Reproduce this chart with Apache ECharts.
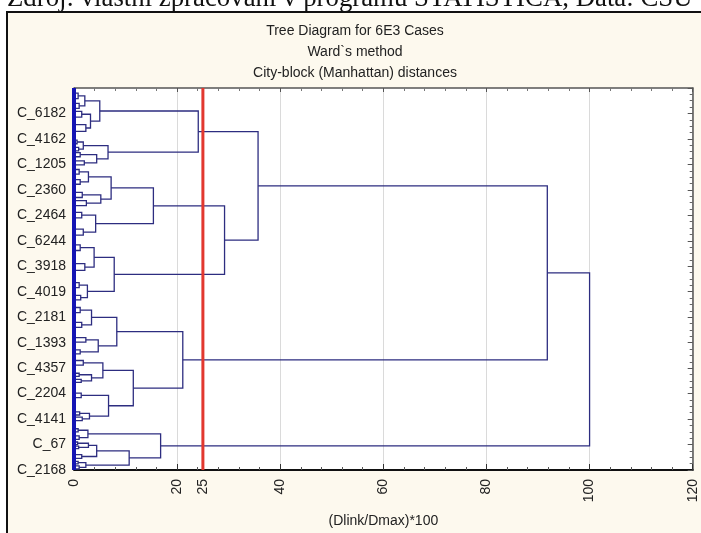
<!DOCTYPE html>
<html><head><meta charset="utf-8">
<script src="https://cdn.jsdelivr.net/npm/echarts@6/dist/echarts.min.js"></script>
<style>html,body{margin:0;padding:0;background:#fff}#c{width:701px;height:533px}</style>
</head><body><div id="c"></div>
<script>
// Case labels shown on the vertical axis, bottom to top (y = 0 .. 14 in label units)
const caseLabels = ['C_2168','C_67','C_4141','C_2204','C_4357','C_1393','C_2181','C_4019','C_3918','C_6244','C_2464','C_2360','C_1205','C_4162','C_6182'];
const xTickValues = [0, 20, 25, 40, 60, 80, 100, 120];
const cutHeight = 25;          // red cut line, (Dlink/Dmax)*100
const leafSpan = [0, 15];      // extent of the dense leaf column (label units)

// Subtrees: [linkHeight, left, right]; a plain number is a leaf at that y position
const clusterA1 = [5.0, [2.1, [0.8, 14.80, 14.58], [1.0, 14.40, 14.20]], [3.2, [1.5, 14.08, 13.86], [2.3, 13.56, 13.30]]];
const clusterA2 = [6.6, [1.8, [0.6, 12.95, 12.81], [0.9, 12.67, 12.53]], [4.4, [1.2, 12.46, 12.30], [2.0, 12.14, 11.98]]];
const clusterB1 = [15.4, [7.2, [2.8, [1.0, 11.80, 11.62], [1.2, 11.40, 11.22]], [5.2, [1.6, 10.90, 10.70], [2.4, 10.58, 10.38]]],
                         [4.2, [1.5, 10.12, 9.90], [1.8, 9.46, 9.22]]];
const clusterB2 = [7.8, [3.9, [1.2, 8.84, 8.62], [2.1, 8.10, 7.84]], [2.6, [1.0, 7.36, 7.16], [1.3, 6.86, 6.68]]];
const clusterC1 = [8.3, [3.4, [1.2, 6.38, 6.18], [1.5, 5.80, 5.60]], [4.7, [2.3, 5.20, 5.02], [1.2, 4.72, 4.56]]];
const clusterC2 = [11.5, [5.6, [1.8, 4.30, 4.12], [3.4, [1.0, 3.80, 3.68], [1.4, 3.56, 3.44]]],
                         [6.7, [1.4, 3.02, 2.84], [3.0, [1.1, 2.28, 2.16], [1.6, 2.08, 1.94]]]];
const clusterD  = [16.8, [2.7, [0.8, 1.62, 1.50], [1.0, 1.34, 1.20]],
                         [10.7, [4.4, [2.8, [0.7, 1.10, 1.00], [0.9, 0.94, 0.84]], [1.5, 0.60, 0.46]], [2.3, [0.8, 0.34, 0.24], [1.0, 0.16, 0.04]]]];
// Upper-level link heights
const heightA = 24.1, heightB = 29.2, heightAB = 35.7, heightC = 21.1, heightABC = 91.8, heightRoot = 100;

const root = [heightRoot, [heightABC, [heightAB, [heightA, clusterA1, clusterA2], [heightB, clusterB1, clusterB2]], [heightC, clusterC1, clusterC2]], clusterD];

const segs = [];
function walk(n) {
  if (typeof n === 'number') return { h: 0, y: n };
  const l = walk(n[1]), r = walk(n[2]);
  segs.push([[l.h, l.y], [n[0], l.y], [n[0], r.y], [r.h, r.y]]);
  return { h: n[0], y: (l.y + r.y) / 2 };
}
walk(root);

const chart = echarts.init(document.getElementById('c'), null, { renderer: 'canvas' });
const FF = '"Liberation Sans", Arial, sans-serif';
chart.setOption({
  animation: false,
  backgroundColor: '#ffffff',
  graphic: [
    { type: 'rect', z: -100, shape: { x: 7, y: 12, width: 702, height: 530 },
      style: { fill: '#fdf9ee', stroke: '#111', lineWidth: 2 } },
    { type: 'text', z: 10, x: 7, y: -1.5,
      style: { text: 'Zdroj: vlastní zpracování v programu STATISTICA, Data: ČSÚ', font: '26.8px "Liberation Serif", serif', fill: '#111', verticalAlign: 'middle', align: 'left' } },
    { type: 'text', z: 10, x: 355, y: 31,
      style: { text: 'Tree Diagram for 6E3 Cases', font: '14px ' + FF, fill: '#222', align: 'center', verticalAlign: 'middle' } },
    { type: 'text', z: 10, x: 355, y: 52,
      style: { text: 'Ward`s method', font: '14px ' + FF, fill: '#222', align: 'center', verticalAlign: 'middle' } },
    { type: 'text', z: 10, x: 355, y: 73,
      style: { text: 'City-block (Manhattan) distances', font: '14px ' + FF, fill: '#222', align: 'center', verticalAlign: 'middle' } }
  ],
  grid: { left: 74, right: 8.3, top: 88, bottom: 60, show: true, backgroundColor: '#ffffff', borderWidth: 0 },
  xAxis: [{
    type: 'value', min: 0, max: 120, interval: 20, position: 'bottom',
    axisLine: { show: true, onZero: false, lineStyle: { color: '#111', width: 2 } },
    axisTick: { show: true, inside: true, length: 6, lineStyle: { color: '#333' } },
    minorTick: { show: true, splitNumber: 5, length: 3, lineStyle: { color: '#555' } },
    splitLine: { show: true, lineStyle: { color: '#dadada', width: 1 } },
    axisLabel: { rotate: 90, margin: 9, fontSize: 14, color: '#222', fontFamily: FF, customValues: xTickValues },
    name: '(Dlink/Dmax)*100', nameLocation: 'middle', nameGap: 44, nameMoveOverlap: false,
    nameTextStyle: { fontSize: 14, color: '#222', fontFamily: FF }
  }, {
    type: 'value', min: 0, max: 120, interval: 20, position: 'top',
    axisLine: { show: true, onZero: false, lineStyle: { color: '#555', width: 1.5 } },
    axisTick: { show: true, inside: true, length: 4, lineStyle: { color: '#555' } },
    minorTick: { show: true, splitNumber: 5, length: 3, lineStyle: { color: '#777' } },
    axisLabel: { show: false }, splitLine: { show: false }
  }],
  yAxis: [{
    type: 'value', min: 0, max: 15, interval: 1, position: 'left',
    axisLine: { show: true, onZero: false, lineStyle: { color: '#111', width: 1 } },
    axisTick: { show: false }, splitLine: { show: false },
    axisLabel: { margin: 8, fontSize: 14, color: '#222', fontFamily: FF,
      formatter: v => caseLabels[v] || '' }
  }, {
    type: 'value', min: 0, max: 15, interval: 1, position: 'right',
    axisLine: { show: true, onZero: false, lineStyle: { color: '#555', width: 1.5 } },
    axisTick: { show: true, inside: true, length: 5, lineStyle: { color: '#555' } },
    minorTick: { show: true, splitNumber: 4, length: 3, lineStyle: { color: '#666' } },
    axisLabel: { show: false }, splitLine: { show: false }
  }],
  series: [{
    type: 'lines', coordinateSystem: 'cartesian2d', xAxisIndex: 0, yAxisIndex: 0,
    polyline: true, silent: true, z: 3,
    lineStyle: { color: '#2d2d80', width: 1.3, opacity: 1 },
    data: segs.map(c => ({ coords: c }))
  }, {
    type: 'lines', coordinateSystem: 'cartesian2d', xAxisIndex: 0, yAxisIndex: 0,
    silent: true, z: 4,
    lineStyle: { color: '#1414b4', width: 4, opacity: 1 },
    data: [{ coords: [[0, leafSpan[0]], [0, leafSpan[1]]] }]
  }, {
    type: 'line', xAxisIndex: 0, yAxisIndex: 0, symbol: 'none', silent: true, z: 5,
    lineStyle: { color: '#e2382f', width: 3 },
    data: [[cutHeight, leafSpan[0]], [cutHeight, leafSpan[1]]]
  }]
});
</script></body></html>
